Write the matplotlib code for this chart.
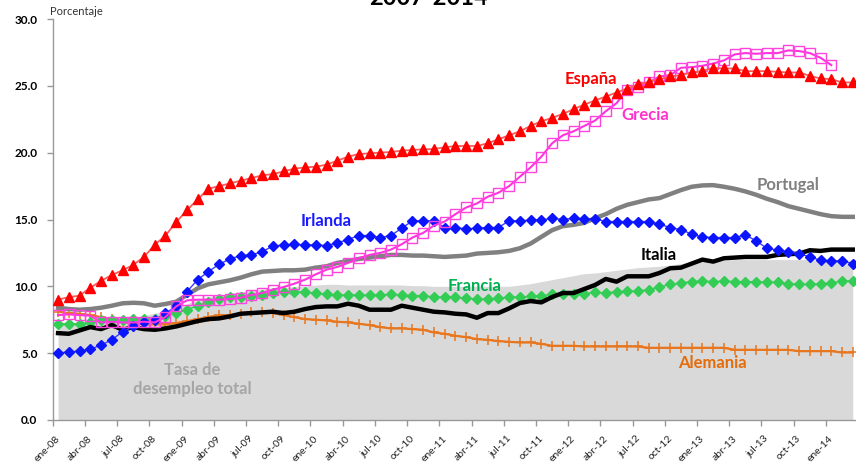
import numpy as np
import matplotlib
matplotlib.use("Agg")
import matplotlib.pyplot as plt

plt.rcParams['font.family'] = ['Lato', 'DejaVu Sans']

tick_labels = ["ene-08", "abr-08", "jul-08", "oct-08", "ene-09", "abr-09", "jul-09", "oct-09",
               "ene-10", "abr-10", "jul-10", "oct-10", "ene-11", "abr-11", "jul-11", "oct-11",
               "ene-12", "abr-12", "jul-12", "oct-12", "ene-13", "abr-13", "jul-13", "oct-13",
               "ene-14"]

espana = [9.0, 9.2, 9.3, 9.9, 10.4, 10.85, 11.2, 11.6, 12.2, 13.1, 13.8, 14.8,
          15.7, 16.5, 17.3, 17.5, 17.7, 17.9, 18.1, 18.3, 18.4, 18.6, 18.8, 18.9,
          18.95, 19.1, 19.4, 19.7, 19.9, 19.95, 20.0, 20.05, 20.15, 20.2, 20.25, 20.27,
          20.4, 20.5, 20.5, 20.5, 20.7, 21.0, 21.3, 21.6, 22.0, 22.35, 22.6, 22.9,
          23.25, 23.6, 23.9, 24.2, 24.5, 24.8, 25.1, 25.3, 25.5, 25.7, 25.8, 26.0,
          26.1, 26.35, 26.3, 26.3, 26.1, 26.1, 26.1, 26.05, 26.0, 26.0, 25.75, 25.55,
          25.5, 25.25, 25.25]

grecia = [7.85, 7.9, 7.85, 7.8, 7.3, 7.35, 7.3, 7.3, 7.35, 7.3, 7.7, 8.5,
          8.95, 9.0, 9.0, 9.0, 9.05, 9.15, 9.35, 9.5, 9.75, 9.95, 10.2, 10.5,
          10.9, 11.25, 11.45, 11.75, 12.1, 12.35, 12.5, 12.75, 13.15, 13.65, 14.0, 14.55,
          14.85, 15.4, 15.9, 16.2, 16.7, 17.0, 17.5, 18.2, 18.9, 19.7, 20.7, 21.3,
          21.6, 22.0, 22.4, 23.1, 23.7, 24.7, 24.9, 25.25, 25.7, 25.8, 26.35, 26.4,
          26.5, 26.67, 26.9, 27.35, 27.45, 27.4, 27.45, 27.45, 27.65, 27.6, 27.45, 27.1,
          26.55]

irlanda = [5.0, 5.1, 5.15, 5.3, 5.6, 6.0, 6.6, 7.0, 7.3, 7.5, 8.0, 8.5,
           9.6, 10.5, 11.1, 11.65, 12.05, 12.3, 12.35, 12.6, 13.0, 13.1, 13.15, 13.1,
           13.1, 13.05, 13.25, 13.5, 13.8, 13.8, 13.65, 13.8, 14.35, 14.9, 14.9, 14.9,
           14.4, 14.4, 14.3, 14.35, 14.4, 14.4, 14.9, 14.9, 14.95, 14.95, 15.1, 15.0,
           15.1, 15.05, 15.05, 14.85, 14.85, 14.85, 14.85, 14.85, 14.65, 14.4, 14.25, 13.9,
           13.7, 13.65, 13.65, 13.65, 13.85, 13.4, 12.85, 12.7, 12.6, 12.45, 12.2, 11.95,
           11.9, 11.9, 11.7]

portugal = [8.4, 8.3, 8.25, 8.3, 8.4, 8.55, 8.73, 8.77, 8.73, 8.55, 8.68, 8.85,
            9.35, 9.85, 10.15, 10.3, 10.45, 10.65, 10.9, 11.1, 11.15, 11.2, 11.2, 11.25,
            11.4, 11.5, 11.75, 11.9, 12.05, 12.15, 12.25, 12.35, 12.35, 12.3, 12.3, 12.25,
            12.2, 12.25, 12.3, 12.45, 12.5, 12.55, 12.65, 12.85, 13.2, 13.7, 14.2, 14.5,
            14.6, 14.75, 15.1, 15.4, 15.8, 16.1, 16.3, 16.5, 16.6, 16.9, 17.2, 17.45,
            17.55, 17.57, 17.45, 17.3, 17.1, 16.85, 16.55, 16.3, 16.0, 15.8, 15.6, 15.4,
            15.25, 15.2, 15.2]

italia = [6.5, 6.45, 6.7, 6.95, 6.8, 7.1, 6.75, 6.95, 6.8, 6.75, 6.85, 7.0,
          7.2, 7.4, 7.55, 7.6, 7.75, 7.95, 8.0, 8.05, 8.1, 8.0, 8.1, 8.3,
          8.45, 8.5, 8.5, 8.7, 8.55, 8.25, 8.25, 8.25, 8.55, 8.4, 8.25, 8.1,
          8.05, 7.95, 7.9, 7.65, 8.0, 8.0, 8.35, 8.75, 8.9, 8.8, 9.2, 9.5,
          9.5, 9.8, 10.1, 10.55, 10.35, 10.75, 10.75, 10.75, 11.0, 11.35, 11.4, 11.7,
          12.0, 11.85, 12.1, 12.15, 12.2, 12.2, 12.2, 12.35, 12.4, 12.45, 12.7, 12.65,
          12.75, 12.75, 12.75]

francia = [7.2, 7.2, 7.2, 7.3, 7.5, 7.5, 7.5, 7.55, 7.55, 7.55, 7.75, 8.0,
           8.25, 8.55, 8.85, 9.05, 9.2, 9.2, 9.3, 9.35, 9.5, 9.6, 9.6, 9.55,
           9.5, 9.4, 9.35, 9.35, 9.35, 9.35, 9.35, 9.4, 9.35, 9.3, 9.3, 9.2,
           9.2, 9.2, 9.1, 9.05, 9.05, 9.1, 9.2, 9.2, 9.25, 9.3, 9.4, 9.4,
           9.45, 9.45, 9.55, 9.5, 9.6, 9.65, 9.65, 9.75, 9.95, 10.15, 10.25, 10.35,
           10.4, 10.35, 10.4, 10.35, 10.35, 10.35, 10.3, 10.3, 10.2, 10.15, 10.15, 10.2,
           10.25, 10.4, 10.4]

alemania = [8.1, 8.0, 7.95, 7.85, 7.7, 7.55, 7.35, 7.25, 7.15, 7.15, 7.15, 7.25,
            7.4, 7.55, 7.7, 7.85, 7.85, 7.95, 8.05, 8.05, 8.0, 7.85, 7.7, 7.55,
            7.5, 7.45, 7.35, 7.3, 7.2, 7.1, 6.95, 6.85, 6.85, 6.8, 6.75, 6.55,
            6.45, 6.3, 6.2, 6.05, 6.0, 5.9, 5.85, 5.8, 5.8, 5.7, 5.55, 5.55,
            5.55, 5.5, 5.5, 5.5, 5.5, 5.5, 5.5, 5.4, 5.4, 5.4, 5.4, 5.4,
            5.4, 5.4, 5.4, 5.25, 5.25, 5.25, 5.25, 5.25, 5.25, 5.15, 5.15, 5.15,
            5.15, 5.05, 5.05]

total = [7.3, 7.3, 7.3, 7.3, 7.4, 7.5, 7.6, 7.7, 7.8, 8.0, 8.1, 8.4,
         8.7, 9.0, 9.2, 9.3, 9.5, 9.6, 9.7, 9.8, 9.9, 9.9, 10.0, 10.0,
         10.1, 10.15, 10.15, 10.1, 10.1, 10.1, 10.1, 10.1, 10.1, 10.05, 10.05, 10.0,
         10.0, 10.0, 10.0, 10.0, 10.0, 10.0, 10.0, 10.1, 10.2, 10.35, 10.5, 10.65,
         10.8, 10.95, 11.0, 11.1, 11.2, 11.3, 11.4, 11.45, 11.5, 11.6, 11.7, 11.8,
         11.85, 11.9, 11.95, 12.0, 12.0, 12.0, 12.0, 12.0, 12.0, 12.0, 12.0, 11.95,
         11.95, 11.95, 11.95]

W, H = 856, 467
fig = plt.figure(figsize=(W / 100, H / 100), dpi=100)
ax = fig.add_axes([52.7 / W, 47 / H, (W - 52.7) / W, 401 / H])

def xs(series):
    return np.arange(len(series)) + 0.5

ax.fill_between(xs(total), 0, total, color='#d9d9d9', linewidth=0, zorder=1)

ax.plot(xs(alemania), alemania, color='#e8761e', lw=1.6, marker='+', ms=7, mew=1.1, zorder=3)
ax.plot(xs(francia), francia, color='#33cc55', lw=1.0, marker='D', ms=5, zorder=3)
ax.plot(xs(italia), italia, color='black', lw=3.2, zorder=4)
ax.plot(xs(portugal), portugal, color='#808080', lw=3.2, zorder=4)
ax.plot(xs(irlanda), irlanda, color='#3d3dff', lw=1.0, marker='D', ms=5,
        markerfacecolor='#0a14ff', markeredgecolor='#0a14ff', zorder=5)
ax.plot(xs(grecia), grecia, color='#ff33dd', lw=1.5, marker='s', ms=7,
        markerfacecolor='none', markeredgecolor='#ff44dd', mew=1.0, zorder=5)
ax.plot(xs(espana), espana, color='#ff5a5a', lw=1.3, marker='^', ms=7,
        markerfacecolor='#ff0000', markeredgecolor='#ff0000', zorder=6)

ax.set_xlim(0, 74.8)
ax.set_ylim(0, 30)
ax.set_yticks([0, 5, 10, 15, 20, 25, 30])
ax.set_yticklabels(['0.0', '5.0', '10.0', '15.0', '20.0', '25.0', '30.0'],
                   fontsize=8.5, fontweight='bold')

# major ticks: tick marks only; minor ticks (shifted) carry the rotated labels
major_pos = np.arange(0, 73, 3)
ax.set_xticks(major_pos)
ax.set_xticklabels([])
ax.set_xticks(major_pos + 0.85, minor=True)
ax.set_xticklabels(tick_labels, minor=True, rotation=45, ha='right', va='top',
                   fontsize=7.5, color='#222222')
ax.tick_params(axis='x', which='minor', length=0, pad=10)

for s in ['top', 'right']:
    ax.spines[s].set_visible(False)
for s in ['left', 'bottom']:
    ax.spines[s].set_color('#999999')
    ax.spines[s].set_linewidth(1.0)
ax.tick_params(axis='y', length=4, width=1, color='#999999', pad=7)
ax.tick_params(axis='x', which='major', length=4, width=1, color='#999999')

lab = dict(fontsize=12, fontweight='bold', ha='center', va='center', zorder=10)
ax.text(50.1, 25.5, 'España', color='#ff0000', **lab)
ax.text(55.2, 22.8, 'Grecia', color='#ff33cc', **lab)
ax.text(68.5, 17.6, 'Portugal', color='#808080', **lab)
ax.text(25.45, 14.9, 'Irlanda', color='#1a1aff', **lab)
ax.text(56.4, 12.35, 'Italia', color='black', **lab)
ax.text(39.3, 10.0, 'Francia', color='#00b050', **lab)
ax.text(61.4, 4.25, 'Alemania', color='#e46c0a', **lab)
ax.text(13.0, 3.05, 'Tasa de\ndesempleo total', color='#a6a6a6', linespacing=1.25, **lab)

fig.text(50 / W, 1 - 11.5 / H, 'Porcentaje', fontsize=8, color='#333333', ha='left', va='center')
fig.text(428 / W, 1 - 5 / H, '2007-2014', fontsize=17, fontweight='bold', ha='center', va='baseline')

fig.savefig('out.png', dpi=100)
